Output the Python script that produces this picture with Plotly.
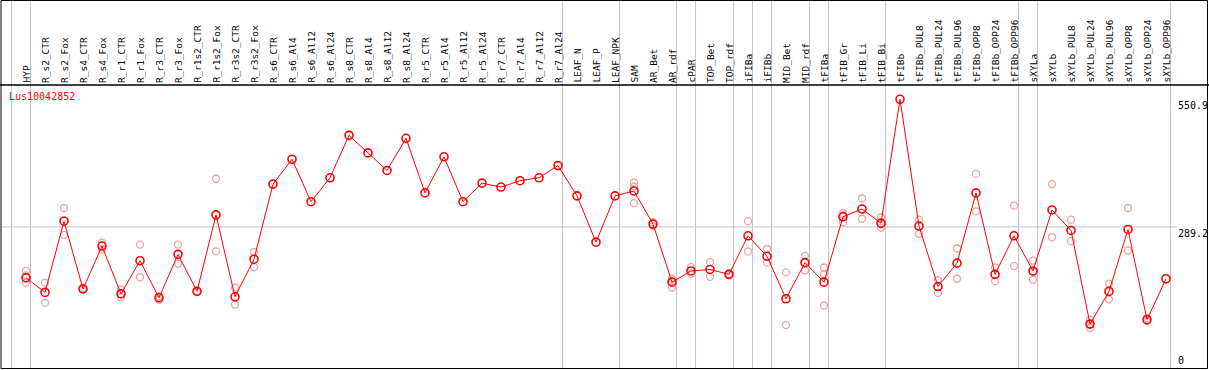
import plotly.graph_objects as go

categories = ["HYP", "R_s2_CTR", "R_s2_Fox", "R_s4_CTR", "R_s4_Fox", "R_r1_CTR", "R_r1_Fox",
              "R_r3_CTR", "R_r3_Fox", "R_r1s2_CTR", "R_r1s2_Fox", "R_r3s2_CTR", "R_r3s2_Fox",
              "R_s6_CTR", "R_s6_Al4", "R_s6_Al12", "R_s6_Al24", "R_s8_CTR", "R_s8_Al4", "R_s8_Al12",
              "R_s8_Al24", "R_r5_CTR", "R_r5_Al4", "R_r5_Al12", "R_r5_Al24", "R_r7_CTR", "R_r7_Al4",
              "R_r7_Al12", "R_r7_Al24", "LEAF_N", "LEAF_P", "LEAF_NPK", "SAM", "AR_Bet", "AR_rdf",
              "cPAR", "TOP_Bet", "TOP_rdf", "iFIBa", "iFIBb", "MID_Bet", "MID_rdf", "tFIBa",
              "tFIB_Gr", "tFIB_Li", "tFIB_Bi", "tFIBb", "tFIBb_PUL8", "tFIBb_PUL24", "tFIBb_PUL96",
              "tFIBb_OPP8", "tFIBb_OPP24", "tFIBb_OPP96", "sXYLa", "sXYLb", "sXYLb_PUL8",
              "sXYLb_PUL24", "sXYLb_PUL96", "sXYLb_OPP8", "sXYLb_OPP24", "sXYLb_OPP96"]

means = [185, 155, 301, 162, 250, 152, 220, 144, 233, 157, 314, 146, 223,
         377, 428, 341, 390, 477, 441, 405, 471, 359, 433, 341, 379, 371, 384, 390, 415,
         353, 258, 353, 363, 295, 176, 199, 202, 192, 271, 229, 142, 216, 176,
         310, 326, 297, 550.9, 291, 167, 215, 359, 192, 271, 199, 324, 282,
         90, 157, 284, 99, 183]

replicates = [[199, 190, 175], [175, 134], [328, 273], [164, 161], [257, 243], [161, 145],
              [253, 186], [147, 140], [253, 214], [158, 156], [388, 239], [165, 130], [238, 207],
              [], [], [], [], [], [], [], [], [], [], [], [], [], [], [], [],
              [], [], [], [380, 372, 338], [299, 291], [183, 178, 165], [207, 193], [217, 187],
              [194, 190], [301, 239], [244, 216], [196, 88], [230, 216, 200], [206, 192, 128],
              [318, 314, 299], [348, 306], [309, 294, 288], [], [304, 275], [180, 154],
              [245, 183], [398, 321], [206, 178], [333, 209], [220, 197, 181], [377, 268],
              [304, 260], [99, 90, 82], [173, 141], [328, 241], [102, 96], []]

# groups are separated after these categories (plus one before the first)
separators_after = ["HYP", "R_r7_Al24", "LEAF_NPK", "AR_rdf", "cPAR", "TOP_rdf", "iFIBa",
                    "iFIBb", "MID_rdf", "tFIBa", "tFIB_Bi", "tFIBb_OPP96", "sXYLa", "sXYLb_OPP96"]

y_ticks = [0, 289.2, 550.9]
gene = "Lus10042852"

W, H = 1209, 370
FONT = "DejaVu Sans Mono"

idx = list(range(len(categories)))
rx, ry = [], []
for i, reps in enumerate(replicates):
    for v in reps:
        rx.append(i)
        ry.append(v)

fig = go.Figure()
fig.add_trace(go.Scatter(x=rx, y=ry, mode="markers",
                         marker=dict(symbol="circle-open", size=7, color="rgb(240,160,160)",
                                     line=dict(width=1.3)),
                         hoverinfo="skip", showlegend=False))
fig.add_trace(go.Scatter(x=idx, y=means, mode="lines+markers",
                         line=dict(color="red", width=1),
                         marker=dict(symbol="circle-open", size=8, color="red",
                                     line=dict(width=1.6)),
                         showlegend=False))

# pixel mapping helpers
px_step = 19.0
px_first = 26.0
x_lo = (0 - px_first) / px_step
x_hi = (W - px_first) / px_step
k = (368 - 99.3) / 550.9
y_lo = (368 - H) / k
y_hi = 368 / k

shapes = []
# outer frame
shapes.append(dict(type="rect", xref="paper", yref="paper", x0=1/W, x1=(W-1.5)/W,
                   y0=(H-368.5)/H, y1=(H-0.5)/H, line=dict(color="black", width=1)))
# header separator line
shapes.append(dict(type="line", xref="paper", yref="paper", x0=0, x1=1,
                   y0=(H-85)/H, y1=(H-85)/H, line=dict(color="black", width=1.5)))
# group separators
seps = [-1] + [categories.index(c) for c in separators_after]
for s in seps:
    shapes.append(dict(type="line", xref="x", yref="paper", x0=s + 0.24, x1=s + 0.24,
                       y0=(H-368)/H, y1=(H-0.5)/H, line=dict(color="#c4c4c4", width=1),
                       layer="below"))
# horizontal grid line at middle tick
shapes.append(dict(type="line", xref="paper", yref="y", x0=1/W, x1=1177/W,
                   y0=y_ticks[1], y1=y_ticks[1], line=dict(color="#c4c4c4", width=1),
                   layer="below"))

annotations = []
for i, c in enumerate(categories):
    annotations.append(dict(x=i, xref="x", y=(H-84)/H, yref="paper", text=c,
                            textangle=-90, showarrow=False, xanchor="center",
                            yanchor="bottom", borderpad=0,
                            font=dict(family=FONT, size=9.5, color="black")))
annotations.append(dict(x=8/W, xref="paper", y=(H-90)/H, yref="paper", text=gene,
                        showarrow=False, xanchor="left", yanchor="top", borderpad=0,
                        font=dict(family=FONT, size=10, color="red")))
for j, t in enumerate(y_ticks):
    lbl = ("%g" % t)
    if j == 0:
        annotations.append(dict(x=1177/W, xref="paper", y=(H-367)/H, yref="paper", text=lbl,
                                showarrow=False, xanchor="left", yanchor="bottom", borderpad=0,
                                font=dict(family=FONT, size=10, color="black")))
    else:
        annotations.append(dict(x=1177/W, xref="paper", y=t, yref="y", text=lbl,
                                showarrow=False, xanchor="left", yanchor="top", borderpad=0,
                                font=dict(family=FONT, size=10, color="black")))

fig.update_layout(
    width=W, height=H, margin=dict(l=0, r=0, t=0, b=0),
    paper_bgcolor="white", plot_bgcolor="white",
    xaxis=dict(range=[x_lo, x_hi], visible=False, fixedrange=True),
    yaxis=dict(range=[y_lo, y_hi], visible=False, fixedrange=True),
    shapes=shapes, annotations=annotations,
)
fig.write_html("out.html", config={"displayModeBar": False},
               post_script="document.body.style.margin='0';document.body.style.overflow='hidden';")
